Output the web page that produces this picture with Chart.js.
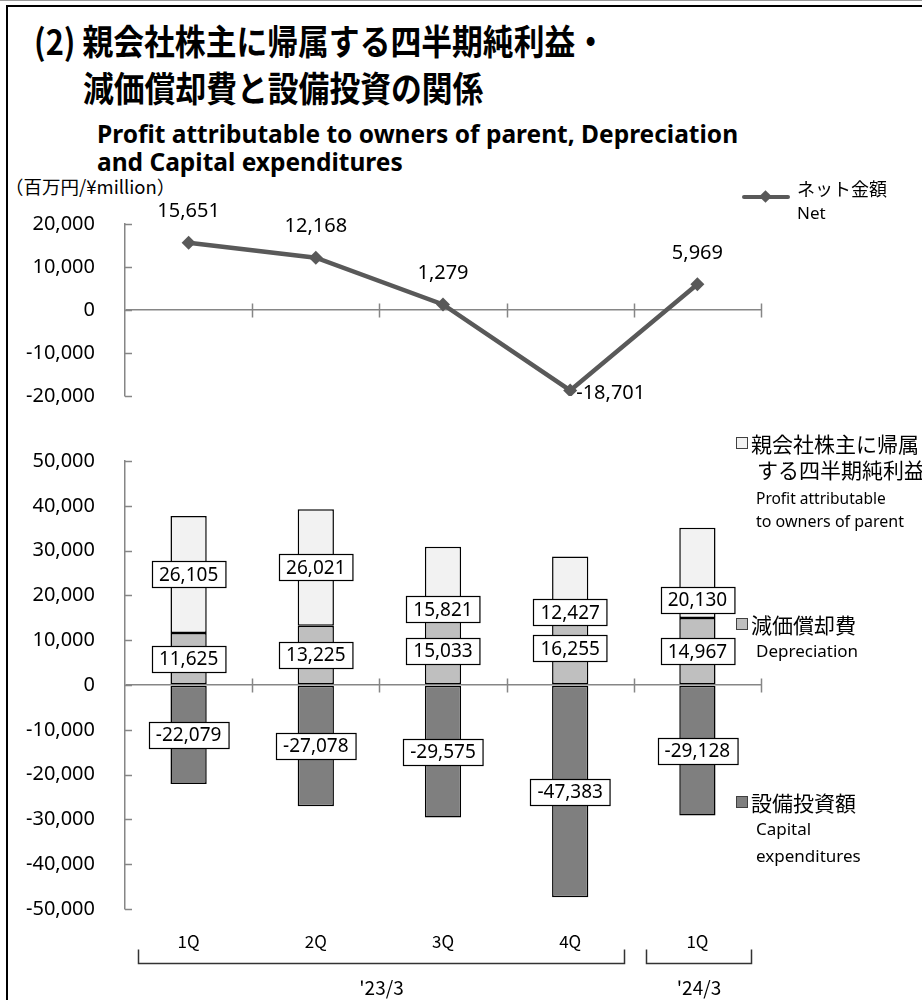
<!DOCTYPE html>
<html>
<head>
<meta charset="utf-8">
<script src="https://cdn.jsdelivr.net/npm/chart.js@4.4.1/dist/chart.umd.min.js"></script>
<style>
  html, body { margin: 0; padding: 0; background: #fff; }
  #page { position: relative; width: 922px; height: 1000px; overflow: hidden; background: #fff; }
  .abs { position: absolute; white-space: nowrap; color: #000; }
  .jp { font-family: "Noto Sans CJK JP", sans-serif; }
  .en { font-family: "Noto Sans", "Open Sans", sans-serif; }
  .cond { transform-origin: 0 50%; }
  .box { position: absolute; left: 0; }
  .sq { position: absolute; width: 10px; height: 10px; border: 1px solid #404040; }
</style>
</head>
<body>
<div id="page">
  <!-- frame -->
  <div class="abs" style="left:0;top:0;width:922px;height:1px;background:#9a9a9a"></div>
  <div class="abs" style="left:6px;top:5px;width:916px;height:2px;background:#000"></div>
  <div class="abs" style="left:6px;top:5px;width:2px;height:995px;background:#000"></div>

  <!-- titles -->
  <div class="abs jp cond" style="left:34px;top:18px;font-size:35px;font-weight:bold;line-height:44px;transform:scaleX(0.88)">(2) 親会社株主に帰属する四半期純利益・</div>
  <div class="abs jp cond" style="left:83px;top:65px;font-size:35px;font-weight:bold;line-height:44px;transform:scaleX(0.88)">減価償却費と設備投資の関係</div>
  <div class="abs en" style="left:97px;top:118px;font-size:24.5px;font-weight:bold;line-height:32px">Profit attributable to owners of parent, Depreciation</div>
  <div class="abs en" style="left:97px;top:146px;font-size:24.5px;font-weight:bold;line-height:32px">and Capital expenditures</div>
  <div class="abs jp" style="left:5px;top:175px;font-size:18.5px;line-height:22px">（百万円/¥million）</div>

  <canvas id="netChart" class="box" width="922" height="225" style="top:195px;width:922px;height:225px"></canvas>
  <canvas id="barChart" class="box" width="922" height="575" style="top:425px;width:922px;height:575px"></canvas>

  <!-- legend: net line -->
  <div class="abs" style="left:742px;top:195px;width:48px;height:4px;background:#595959;border-radius:2px"></div>
  <div class="abs" style="left:761px;top:192px;width:9px;height:9px;background:#595959;transform:rotate(45deg)"></div>
  <div class="abs jp" style="left:797px;top:176px;font-size:18px;line-height:24px">ネット金額</div>
  <div class="abs en" style="left:797px;top:201px;font-size:17px;line-height:24px">Net</div>

  <!-- legend: bars -->
  <div class="sq" style="left:736px;top:437px;background:#f2f2f2"></div>
  <div class="abs jp" style="left:751px;top:429px;font-size:21px;line-height:28px">親会社株主に帰属</div>
  <div class="abs jp" style="left:757px;top:455px;font-size:21px;line-height:28px">する四半期純利益</div>
  <div class="abs en" style="left:756px;top:486px;font-size:15.5px;line-height:24px">Profit attributable</div>
  <div class="abs en" style="left:756px;top:509px;font-size:16px;line-height:24px">to owners of parent</div>

  <div class="sq" style="left:736px;top:618px;background:#bfbfbf"></div>
  <div class="abs jp" style="left:751px;top:610px;font-size:21px;line-height:28px">減価償却費</div>
  <div class="abs en" style="left:756px;top:639px;font-size:17px;line-height:24px">Depreciation</div>

  <div class="sq" style="left:736px;top:796px;background:#7f7f7f"></div>
  <div class="abs jp" style="left:751px;top:788px;font-size:21px;line-height:28px">設備投資額</div>
  <div class="abs en" style="left:756px;top:817px;font-size:17px;line-height:24px">Capital</div>
  <div class="abs en" style="left:756px;top:844px;font-size:17px;line-height:24px">expenditures</div>
</div>

<script>
// ---- data (¥ million) ----
const QUARTERS = ['1Q', '2Q', '3Q', '4Q', '1Q'];
const PERIODS = ["'23/3", "'24/3"];
const PERIOD_FIRST = [0, 4];
const PERIOD_LAST = [3, 4];

const NET = [15651, 12168, 1279, -18701, 5969];
const PROFIT = [26105, 26021, 15821, 12427, 20130];
const DEPRECIATION = [11625, 13225, 15033, 16255, 14967];
const CAPEX = [-22079, -27078, -29575, -47383, -29128];

const NET_MIN = -20000, NET_MAX = 20000, NET_STEP = 10000;
const BAR_MIN = -50000, BAR_MAX = 50000, BAR_STEP = 10000;

// label placement tweaks (pixels / side), as in the original slide
const NET_LABEL_SIDE = ['top', 'top', 'top', 'right', 'top'];
const PROFIT_LABEL_SHIFT = [0, 0, 27, 28, 27];

const AXIS_GRAY = '#868686';
const LINE_GRAY = '#595959';
const C_PROFIT = '#f2f2f2';
const C_DEP = '#bfbfbf';
const C_CAPEX = '#7f7f7f';
const NUM_FONT = '"Noto Sans", "Open Sans", sans-serif';

const fmt = v => v.toLocaleString('en-US');

// inner y ticks + crossing category ticks on the zero line
function drawAxisMarks(chart) {
  const { ctx, chartArea: { left, right }, scales: { y } } = chart;
  const n = chart.data.labels.length;
  const w = (right - left) / n;
  const zy = Math.round(y.getPixelForValue(0)) + 0.5;
  ctx.save();
  ctx.strokeStyle = AXIS_GRAY;
  ctx.lineWidth = 1.5;
  ctx.beginPath();
  y.ticks.forEach(t => {
    const py = Math.round(y.getPixelForValue(t.value)) + 0.5;
    ctx.moveTo(left, py);
    ctx.lineTo(left + 7, py);
  });
  for (let i = 1; i <= n; i++) {
    const px = Math.round(left + i * w) + 0.5;
    ctx.moveTo(px, zy - 7);
    ctx.lineTo(px, zy + 7);
  }
  ctx.stroke();
  ctx.restore();
}

function yAxis(min, max, step) {
  return {
    min: min, max: max,
    // fixed axis width; the tick padding must not eat into the plot height
    afterFit: s => { s.width = 125; s.paddingTop = 0; s.paddingBottom = 0; },
    border: { display: true, color: AXIS_GRAY, width: 1.5 },
    grid: {
      drawTicks: false,
      color: c => c.tick && c.tick.value === 0 ? AXIS_GRAY : 'rgba(0,0,0,0)',
      lineWidth: 1.5
    },
    ticks: {
      stepSize: step,
      padding: 30,
      color: '#000',
      font: { family: NUM_FONT, size: 20 },
      callback: v => fmt(v)
    }
  };
}

const netLabels = {
  id: 'netLabels',
  afterDatasetsDraw(chart) {
    const ctx = chart.ctx;
    const pts = chart.getDatasetMeta(0).data;
    ctx.save();
    ctx.fillStyle = '#000';
    ctx.font = '20px ' + NUM_FONT;
    ctx.textBaseline = 'middle';
    pts.forEach((p, i) => {
      if (NET_LABEL_SIDE[i] === 'right') {
        ctx.textAlign = 'left';
        ctx.fillText(fmt(NET[i]), p.x + 6, p.y + 3);
      } else {
        ctx.textAlign = 'center';
        ctx.fillText(fmt(NET[i]), p.x, p.y - 31);
      }
    });
    ctx.restore();
  },
  afterDraw: drawAxisMarks
};

new Chart(document.getElementById('netChart'), {
  type: 'line',
  data: {
    labels: QUARTERS,
    datasets: [{
      data: NET,
      borderColor: LINE_GRAY,
      backgroundColor: LINE_GRAY,
      borderWidth: 4.5,
      pointStyle: 'rectRot',
      pointRadius: 7,
      pointBorderWidth: 0,
      tension: 0
    }]
  },
  plugins: [netLabels],
  options: {
    responsive: false,
    devicePixelRatio: 1,
    animation: false,
    layout: { padding: { left: 0, right: 161, top: 29, bottom: 24 } },
    plugins: { legend: { display: false }, tooltip: { enabled: false } },
    scales: {
      x: { type: 'category', offset: true, display: false },
      y: yAxis(NET_MIN, NET_MAX, NET_STEP)
    }
  }
});

function boxLabel(ctx, text, x, y) {
  const w = ctx.measureText(text).width + 14;
  const h = 26;
  const bx = Math.round(x - w / 2) + 0.5;
  const by = Math.round(y - h / 2) + 0.5;
  ctx.fillStyle = '#fff';
  ctx.fillRect(bx, by, w, h);
  ctx.strokeStyle = '#000';
  ctx.lineWidth = 1.2;
  ctx.strokeRect(bx, by, w, h);
  ctx.fillStyle = '#000';
  ctx.fillText(text, x, y + 1);
}

const barLabels = {
  id: 'barLabels',
  afterDatasetsDraw(chart) {
    const ctx = chart.ctx;
    ctx.save();
    ctx.font = '19px ' + NUM_FONT;
    ctx.textAlign = 'center';
    ctx.textBaseline = 'middle';
    const sets = [DEPRECIATION, PROFIT, CAPEX];
    sets.forEach((vals, d) => {
      chart.getDatasetMeta(d).data.forEach((bar, i) => {
        let cy = (bar.y + bar.base) / 2;
        if (d === 1) cy += PROFIT_LABEL_SHIFT[i];
        boxLabel(ctx, fmt(vals[i]), bar.x, cy);
      });
    });
    ctx.restore();
  },
  afterDraw(chart) {
    drawAxisMarks(chart);
    const { ctx, chartArea: { bottom }, scales: { x } } = chart;
    ctx.save();
    ctx.fillStyle = '#000';
    ctx.textAlign = 'center';
    ctx.textBaseline = 'middle';
    ctx.font = '17px "Noto Sans CJK JP", sans-serif';
    QUARTERS.forEach((q, i) => ctx.fillText(q, x.getPixelForValue(i), bottom + 33));
    ctx.strokeStyle = '#333';
    ctx.lineWidth = 1.5;
    ctx.font = '19px "Noto Sans CJK JP", sans-serif';
    PERIODS.forEach((p, k) => {
      const x0 = Math.round(x.getPixelForValue(PERIOD_FIRST[k]) - 51) + 0.5;
      const x1 = Math.round(x.getPixelForValue(PERIOD_LAST[k]) + 54) + 0.5;
      const yb = bottom + 54.5;
      ctx.beginPath();
      ctx.moveTo(x0, yb - 14);
      ctx.lineTo(x0, yb);
      ctx.lineTo(x1, yb);
      ctx.lineTo(x1, yb - 14);
      ctx.stroke();
      ctx.fillText(p, (x0 + x1) / 2, bottom + 79);
    });
    ctx.restore();
  }
};

const barStyle = {
  borderColor: '#000',
  borderWidth: 1.5,
  borderSkipped: false,
  barPercentage: 0.285,
  categoryPercentage: 1
};

new Chart(document.getElementById('barChart'), {
  type: 'bar',
  data: {
    labels: QUARTERS,
    datasets: [
      Object.assign({ label: '減価償却費', data: DEPRECIATION, backgroundColor: C_DEP }, barStyle),
      Object.assign({ label: '親会社株主に帰属する四半期純利益', data: PROFIT, backgroundColor: C_PROFIT }, barStyle),
      Object.assign({ label: '設備投資額', data: CAPEX, backgroundColor: C_CAPEX }, barStyle)
    ]
  },
  plugins: [barLabels],
  options: {
    responsive: false,
    devicePixelRatio: 1,
    animation: false,
    layout: { padding: { left: 0, right: 161, top: 36, bottom: 91 } },
    plugins: { legend: { display: false }, tooltip: { enabled: false } },
    scales: {
      x: { type: 'category', stacked: true, display: false },
      y: Object.assign(yAxis(BAR_MIN, BAR_MAX, BAR_STEP), { stacked: true })
    }
  }
});
</script>
</body>
</html>
